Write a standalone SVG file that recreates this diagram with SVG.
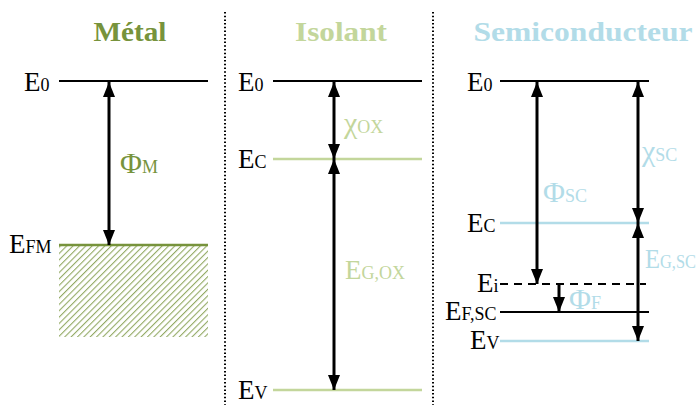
<svg xmlns="http://www.w3.org/2000/svg" width="699" height="405" viewBox="0 0 699 405">
<defs>
<style>
.lbl{font-family:"Liberation Serif","DejaVu Serif",serif;font-size:27px;fill:#000}
.sub{font-size:18px}
.gr{font-size:30px}
.title{font-family:"Liberation Serif","DejaVu Serif",serif;font-size:27px;font-weight:bold}
.blk{stroke:#000;stroke-width:2.2;fill:none}
.arr{stroke:#000;stroke-width:3;fill:none}
.sep{stroke:#000;stroke-width:2;stroke-dasharray:1.5 2.2;fill:none}
.m{fill:#77933C}
.i{fill:#C3D69B}
.s{fill:#B2DCE8}
</style>
<marker id="ah" viewBox="0 0 15 12" refX="15" refY="6" markerWidth="15" markerHeight="12" markerUnits="userSpaceOnUse" orient="auto-start-reverse">
<path d="M0,0 L15,6 L0,12 z" fill="#000"/>
</marker>
<pattern id="hatch" width="4.5" height="4.5" patternUnits="userSpaceOnUse" patternTransform="rotate(45)">
<rect width="4.5" height="4.5" fill="#fff"/>
<line x1="0" y1="0" x2="0" y2="4.5" stroke="#77933C" stroke-width="2.2" opacity="0.8"/>
</pattern>
</defs>
<rect width="699" height="405" fill="#fff"/>

<g id="separators">
<line class="sep" x1="225" y1="12" x2="225" y2="405"/>
<line class="sep" x1="433" y1="12" x2="433" y2="405"/>
</g>

<g id="metal">
<text class="title m" x="130" y="41" text-anchor="middle" textLength="73" lengthAdjust="spacingAndGlyphs">Métal</text>
<line class="blk" x1="59" y1="81" x2="208" y2="81"/>
<text class="lbl" x="24" y="91">E<tspan class="sub">0</tspan></text>
<rect x="59" y="246" width="149" height="91" fill="url(#hatch)"/>
<line x1="59" y1="245" x2="208" y2="245" stroke="#77933C" stroke-width="2.5"/>
<text class="lbl" x="9" y="253">E<tspan class="sub">FM</tspan></text>
<text class="lbl m" x="120" y="173"><tspan class="gr">Φ</tspan><tspan class="sub">M</tspan></text>
</g>

<g id="isolant">
<text class="title i" x="341" y="41" text-anchor="middle" textLength="92" lengthAdjust="spacingAndGlyphs">Isolant</text>
<line class="blk" x1="273" y1="81" x2="422" y2="81"/>
<text class="lbl" x="238" y="91">E<tspan class="sub">0</tspan></text>
<line x1="273" y1="159" x2="422" y2="159" stroke="#C3D69B" stroke-width="2.5"/>
<text class="lbl" x="238" y="168">E<tspan class="sub">C</tspan></text>
<line x1="273" y1="390" x2="422" y2="390" stroke="#C3D69B" stroke-width="2.5"/>
<text class="lbl" x="238" y="399">E<tspan class="sub">V</tspan></text>
<text class="lbl i" x="344" y="133"><tspan class="gr">χ</tspan><tspan class="sub">OX</tspan></text>
<text class="lbl i" x="345" y="279">E<tspan class="sub">G,OX</tspan></text>
</g>

<g id="semiconducteur">
<text class="title s" x="583" y="41" text-anchor="middle" textLength="219" lengthAdjust="spacingAndGlyphs">Semiconducteur</text>
<line class="blk" x1="500" y1="81" x2="649" y2="81"/>
<text class="lbl" x="467" y="91">E<tspan class="sub">0</tspan></text>
<line x1="500" y1="223" x2="649" y2="223" stroke="#B2DCE8" stroke-width="2.5"/>
<text class="lbl" x="467" y="232">E<tspan class="sub">C</tspan></text>
<line x1="500" y1="284" x2="646" y2="284" stroke="#000" stroke-width="2" stroke-dasharray="8 6"/>
<text class="lbl" x="477" y="292">E<tspan class="sub">i</tspan></text>
<line class="blk" x1="500" y1="312" x2="649" y2="312"/>
<text class="lbl" x="445" y="320">E<tspan class="sub">F,SC</tspan></text>
<line x1="500" y1="341" x2="649" y2="341" stroke="#B2DCE8" stroke-width="2.5"/>
<text class="lbl" x="470" y="349">E<tspan class="sub">V</tspan></text>
<text class="lbl s" x="543" y="202"><tspan class="gr">Φ</tspan><tspan class="sub">SC</tspan></text>
<text class="lbl s" x="642" y="161"><tspan class="gr">χ</tspan><tspan class="sub">SC</tspan></text>
<text class="lbl s" x="645" y="268" textLength="51" lengthAdjust="spacingAndGlyphs">E<tspan class="sub">G,SC</tspan></text>
<text class="lbl s" x="569" y="309"><tspan class="gr">Φ</tspan><tspan class="sub">F</tspan></text>
</g>

<g id="connectors">
<line class="arr" x1="109" y1="82" x2="109" y2="245" marker-start="url(#ah)" marker-end="url(#ah)"/>
<line class="arr" x1="334" y1="82" x2="334" y2="159" marker-start="url(#ah)" marker-end="url(#ah)"/>
<line class="arr" x1="334" y1="159" x2="334" y2="390" marker-start="url(#ah)" marker-end="url(#ah)"/>
<line class="arr" x1="537" y1="82" x2="537" y2="284" marker-start="url(#ah)" marker-end="url(#ah)"/>
<line class="arr" x1="638" y1="82" x2="638" y2="223" marker-start="url(#ah)" marker-end="url(#ah)"/>
<line class="arr" x1="638" y1="223" x2="638" y2="341" marker-start="url(#ah)" marker-end="url(#ah)"/>
<line class="arr" x1="559" y1="285" x2="559" y2="312" marker-end="url(#ah)"/>
</g>
</svg>
